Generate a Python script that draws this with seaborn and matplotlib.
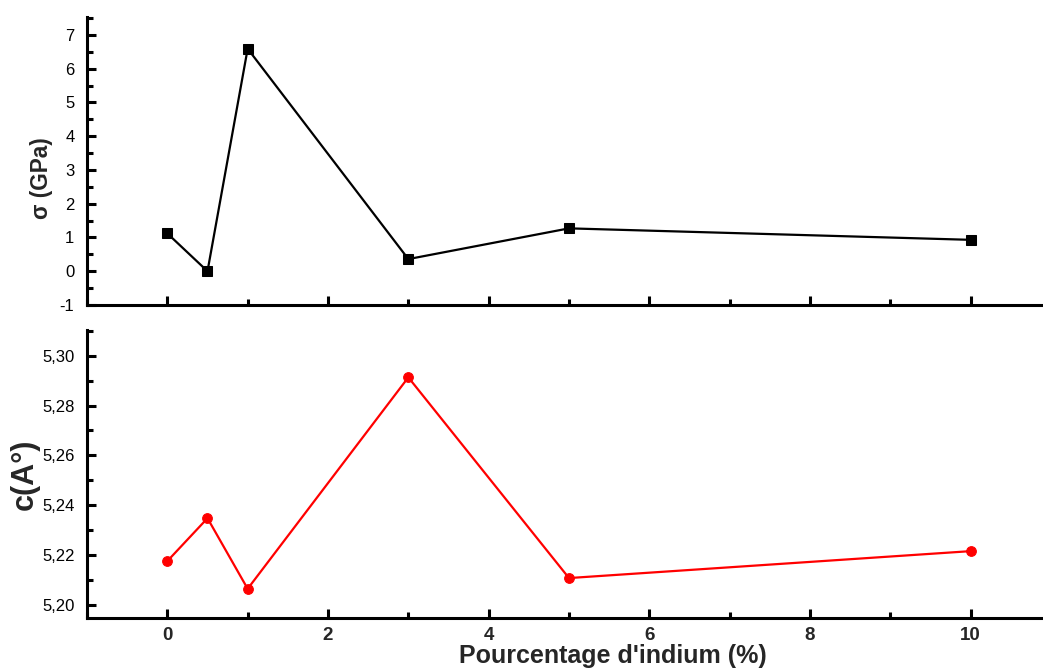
import matplotlib
matplotlib.use("Agg")
import matplotlib.pyplot as plt
import seaborn as sns
import pandas as pd
from matplotlib.ticker import MultipleLocator, FuncFormatter

# Data
indium_pct = [0, 0.5, 1, 3, 5, 10]
sigma_gpa = [1.12, 0.0, 6.59, 0.36, 1.27, 0.93]
c_param = [5.2176, 5.2348, 5.2065, 5.2913, 5.2108, 5.2216]
x_ticks = [0, 2, 4, 6, 8, 10]

sns.set_style("ticks")
plt.rcParams['font.family'] = ['Liberation Sans', 'DejaVu Sans']
plt.rcParams['axes.unicode_minus'] = False

df = pd.DataFrame({"x": indium_pct, "sigma": sigma_gpa, "c": c_param})

fig = plt.figure(figsize=(10.43, 6.71), dpi=100)
W, H = 1043, 671
left = 87 / W
width = (1051 - 87) / W
ax1 = fig.add_axes([left, 1 - 305 / H, width, (305 - 17) / H])
ax2 = fig.add_axes([left, 1 - 617.7 / H, width, (617.7 - 330) / H])

sns.lineplot(data=df, x="x", y="sigma", ax=ax1, color="black", marker="s",
             markersize=7, linewidth=1.6, markeredgecolor="black")
sns.lineplot(data=df, x="x", y="c", ax=ax2, color="#ff0000", marker="o",
             markersize=7, linewidth=1.6, markeredgecolor="#ff0000")

for ax in (ax1, ax2):
    ax.set_xlim(-1, 11)
    ax.xaxis.set_major_locator(MultipleLocator(2))
    ax.xaxis.set_minor_locator(MultipleLocator(1))
    for s in ("top", "right"):
        ax.spines[s].set_visible(False)
    for s in ("left", "bottom"):
        ax.spines[s].set_linewidth(2.2)
        ax.spines[s].set_color("black")
    ax.tick_params(which="major", direction="in", length=6.5, width=2.2, color="black")
    ax.tick_params(which="minor", direction="in", length=4, width=2.2, color="black")
    ax.tick_params(axis="y", which="major", pad=9, labelsize=12, labelcolor="black")
    ax.set_facecolor("white")

ax1.set_ylim(-1, 7.53)
ax1.yaxis.set_major_locator(MultipleLocator(1))
ax1.yaxis.set_minor_locator(MultipleLocator(0.5))
ax1.set_xticks(x_ticks)
ax1.tick_params(axis="x", labelbottom=False)
ax1.set_xlabel("")
ax1.set_ylabel("σ (GPa)", fontsize=16.3, fontweight="bold")
ax1.yaxis.set_label_coords(-0.035, 0.441)

ax2.set_ylim(5.1949, 5.3103)
ax2.yaxis.set_major_locator(MultipleLocator(0.02))
ax2.yaxis.set_minor_locator(MultipleLocator(0.01))
ax2.yaxis.set_major_formatter(FuncFormatter(lambda v, p: f"{v:.2f}".replace(".", ",")))
ax2.set_xticks(x_ticks)
ax2.set_xticklabels([str(t) for t in x_ticks], fontsize=13.5, fontweight="bold")
ax2.tick_params(axis="x", which="major", pad=7)
ax2.set_ylabel("c(A°)", fontsize=22, fontweight="bold")
ax2.yaxis.set_label_coords(-0.0488, 0.5)
ax2.set_xlabel("Pourcentage d'indium (%)", fontsize=18, fontweight="bold")
ax2.xaxis.set_label_coords(0.545, -0.091)

fig.savefig("out.png", dpi=100, facecolor="white")
